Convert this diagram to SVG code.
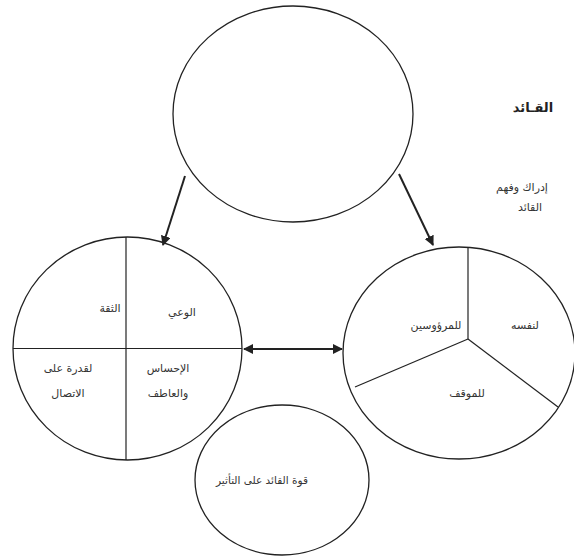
<svg xmlns="http://www.w3.org/2000/svg" width="574" height="556" viewBox="0 0 574 556">
<style>
.c{fill:none;stroke:#222;stroke-width:1.3}
.l{stroke:#222;stroke-width:1.2;fill:none}
.a{stroke:#222;stroke-width:2;fill:none}
.t{font-family:"DejaVu Sans",sans-serif;font-size:11px;fill:#333;text-anchor:middle}
</style>
<defs>
<marker id="ah" viewBox="0 0 10 10" refX="9" refY="5" markerWidth="5" markerHeight="5" orient="auto-start-reverse" markerUnits="strokeWidth">
<path d="M0,0 L10,5 L0,10 z" fill="#222"/>
</marker>
</defs>
<rect width="574" height="556" fill="#fff"/>
<g id="top">
<ellipse class="c" cx="293" cy="114" rx="120" ry="108"/>
</g>
<g id="leader-label">
<text class="t" x="533" y="112" direction="rtl" style="font-size:13px;font-weight:bold;fill:#222">القـائد</text>
</g>
<g id="perception-label">
<text class="t" x="522" y="191" direction="rtl">إدراك وفهم</text>
<text class="t" x="530" y="211" direction="rtl">القائد</text>
</g>
<g id="left">
<ellipse class="c" cx="127.5" cy="348.5" rx="114.5" ry="111.5"/>
<line class="l" x1="126" y1="237" x2="126" y2="460"/>
<line class="l" x1="13" y1="348.5" x2="242" y2="348.5"/>
<text class="t" x="110" y="312" direction="rtl">الثقة</text>
<text class="t" x="182" y="316" direction="rtl">الوعي</text>
<text class="t" x="68" y="372" direction="rtl">لقدرة على</text>
<text class="t" x="68" y="397" direction="rtl">الاتصال</text>
<text class="t" x="168" y="372" direction="rtl">الإحساس</text>
<text class="t" x="168" y="397" direction="rtl">والعاطف</text>
</g>
<g id="right">
<ellipse class="c" cx="459" cy="353" rx="116" ry="106"/>
<line class="l" x1="468" y1="247" x2="468" y2="339"/>
<line class="l" x1="468" y1="339" x2="355" y2="387"/>
<line class="l" x1="468" y1="339" x2="558" y2="407"/>
<text class="t" x="436" y="329" direction="rtl">للمرؤوسين</text>
<text class="t" x="525" y="329" direction="rtl">لنفسه</text>
<text class="t" x="467" y="397" direction="rtl">للموقف</text>
</g>
<g id="bottom">
<ellipse class="c" cx="282" cy="480" rx="87" ry="75"/>
<text class="t" x="262" y="484" direction="rtl" style="font-size:10.5px">قوة القائد على التأثير</text>
</g>
<g id="connectors">
<line class="a" x1="185" y1="176" x2="163" y2="245" marker-end="url(#ah)"/>
<line class="a" x1="399" y1="174" x2="433" y2="245" marker-end="url(#ah)"/>
<line class="a" x1="244" y1="349" x2="342" y2="349" stroke-width="3" marker-start="url(#ah)" marker-end="url(#ah)"/>
</g>
</svg>
